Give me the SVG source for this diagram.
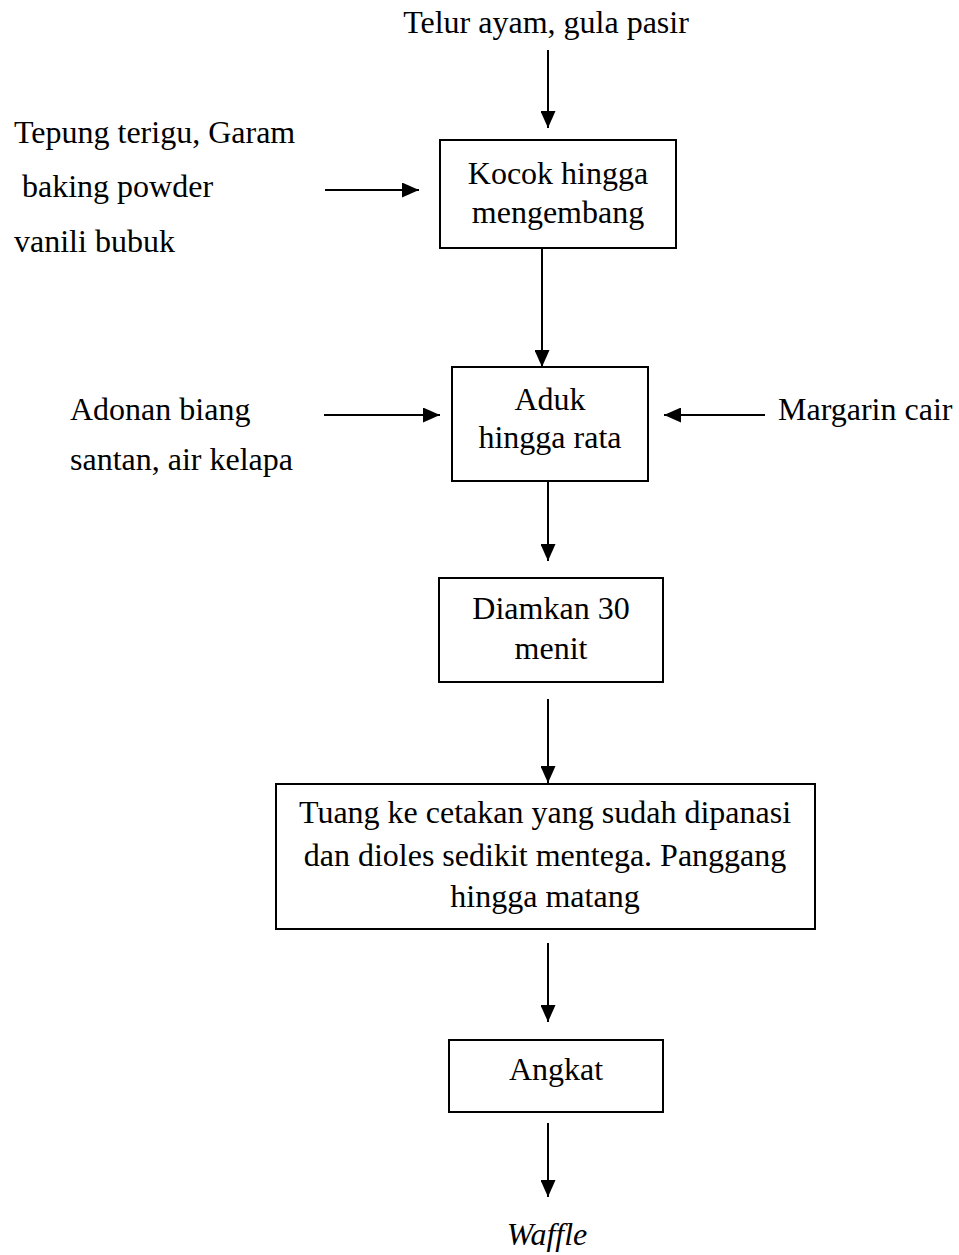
<svg xmlns="http://www.w3.org/2000/svg" width="959" height="1255" viewBox="0 0 959 1255">
<style>
text{font-family:"Liberation Serif","Times New Roman",serif;font-size:32px;fill:#000}
.c{text-anchor:middle}
.box{fill:#fff;stroke:#000;stroke-width:2}
.ln{stroke:#000;stroke-width:2;fill:none;marker-end:url(#ah)}
</style>
<defs>
<marker id="ah" markerUnits="userSpaceOnUse" markerWidth="17" markerHeight="15" refX="17" refY="7.5" orient="auto" viewBox="0 0 17 15">
<path d="M0,0 L17,7.5 L0,15 z" fill="#000"/>
</marker>
</defs>
<rect width="959" height="1255" fill="#fff"/>
<g id="connectors">
<line class="ln" x1="548" y1="50" x2="548" y2="128"/>
<line class="ln" x1="325" y1="190" x2="419" y2="190"/>
<line class="ln" x1="542" y1="248" x2="542" y2="367"/>
<line class="ln" x1="324" y1="415" x2="440" y2="415"/>
<line class="ln" x1="765" y1="415" x2="664" y2="415"/>
<line class="ln" x1="548" y1="481" x2="548" y2="561"/>
<line class="ln" x1="548" y1="699" x2="548" y2="783"/>
<line class="ln" x1="548" y1="943" x2="548" y2="1022"/>
<line class="ln" x1="548" y1="1123" x2="548" y2="1197"/>
</g>
<g id="in-telur"><text class="c" x="546" y="33">Telur ayam, gula pasir</text></g>
<g id="in-tepung">
<text x="14" y="143">Tepung terigu, Garam</text>
<text x="22" y="197">baking powder</text>
<text x="14" y="252">vanili bubuk</text>
</g>
<g id="kocok">
<rect class="box" x="440" y="140" width="236" height="108"/>
<text class="c" x="558" y="184">Kocok hingga</text>
<text class="c" x="558" y="223">mengembang</text>
</g>
<g id="in-adonan">
<text x="70" y="420">Adonan biang</text>
<text x="70" y="470">santan, air kelapa</text>
</g>
<g id="in-margarin"><text x="778" y="420">Margarin cair</text></g>
<g id="aduk">
<rect class="box" x="452" y="367" width="196" height="114"/>
<text class="c" x="550" y="410">Aduk</text>
<text class="c" x="550" y="448">hingga rata</text>
</g>
<g id="diamkan">
<rect class="box" x="439" y="578" width="224" height="104"/>
<text class="c" x="551" y="619">Diamkan 30</text>
<text class="c" x="551" y="659">menit</text>
</g>
<g id="tuang">
<rect class="box" x="276" y="784" width="539" height="145"/>
<text class="c" x="545" y="823">Tuang ke cetakan yang sudah dipanasi</text>
<text class="c" x="545" y="866">dan dioles sedikit mentega. Panggang</text>
<text class="c" x="545" y="907">hingga matang</text>
</g>
<g id="angkat">
<rect class="box" x="449" y="1040" width="214" height="72"/>
<text class="c" x="556" y="1080">Angkat</text>
</g>
<g id="out-waffle"><text class="c" x="547" y="1245" font-style="italic">Waffle</text></g>
</svg>
